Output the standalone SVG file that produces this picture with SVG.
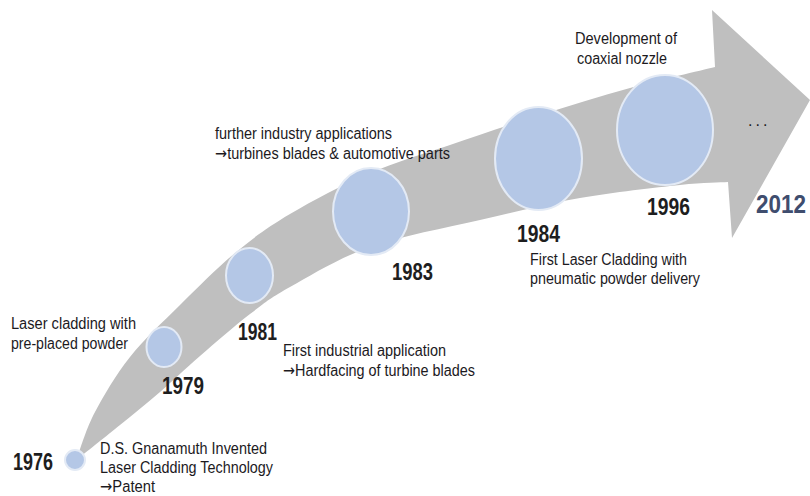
<svg xmlns="http://www.w3.org/2000/svg" width="810" height="496" viewBox="0 0 810 496">
  <style>
    .band { fill: #bfbfbf; }
    .dot { fill: #b4c7e6; stroke: #e3eaf5; stroke-width: 2; }
    .year { font-family: "Liberation Sans", Arial, sans-serif; font-size: 23px; font-weight: bold; fill: #1e1e1e; }
    .year-end { font-family: "Liberation Sans", Arial, sans-serif; font-size: 25px; font-weight: bold; fill: #3f4d6e; }
    .desc { font-family: "Liberation Sans", Arial, sans-serif; font-size: 16px; fill: #1c1a1e; }
    .arr { font-family: "DejaVu Sans", sans-serif; }
  </style>

  <!-- curved timeline arrow -->
  <g id="connectors">
    <path id="timeline-arrow" class="band" d="M78,455
      C80.8,447.8 86.3,428.3 95,412
      C103.7,395.7 115.8,374.8 130,357
      C144.2,339.2 162.5,322.3 180,305
      C197.5,287.7 216.7,268.2 235,253
      C253.3,237.8 267.5,227.3 290,214
      C312.5,200.7 343.3,184.5 370,173
      C396.7,161.5 421.7,154.7 450,145
      C478.3,135.3 510,124.5 540,115
      C570,105.5 600.8,96 630,88
      C659.2,80 700.8,70.5 715,67
      L712,10 L810,100 L732,238 L728,182
      C720,182.5 704.7,182.3 680,185
      C655.3,187.7 613.3,192.2 580,198
      C546.7,203.8 515,211.8 480,220
      C445,228.2 401.7,235.8 370,247
      C338.3,258.2 310,275.8 290,287
      C270,298.2 265,302.5 250,314
      C235,325.5 215,343 200,356
      C185,369 173.3,380.5 160,392
      C146.7,403.5 133.3,414.2 120,425
      C106.7,435.8 86.7,451.7 80,457 Z"/>
  </g>

  <g id="node-1976">
    <circle class="dot" cx="75" cy="460" r="10"/>
    <text class="year" x="13" y="470" textLength="40" lengthAdjust="spacingAndGlyphs">1976</text>
    <text class="desc" x="100" y="454" textLength="167" lengthAdjust="spacingAndGlyphs">D.S. Gnanamuth Invented</text>
    <text class="desc" x="100" y="473" textLength="173" lengthAdjust="spacingAndGlyphs">Laser Cladding Technology</text>
    <text class="desc" x="100" y="492" textLength="55" lengthAdjust="spacingAndGlyphs"><tspan class="arr">→</tspan>Patent</text>
  </g>

  <g id="node-1979">
    <ellipse class="dot" cx="164" cy="347" rx="17.5" ry="20"/>
    <text class="year" x="162" y="394" textLength="42" lengthAdjust="spacingAndGlyphs">1979</text>
    <text class="desc" x="11" y="329" textLength="125" lengthAdjust="spacingAndGlyphs">Laser cladding with</text>
    <text class="desc" x="11" y="349" textLength="117" lengthAdjust="spacingAndGlyphs">pre-placed powder</text>
  </g>

  <g id="node-1981">
    <ellipse class="dot" cx="249.5" cy="275.5" rx="23.5" ry="27.5"/>
    <text class="year" x="238" y="340" textLength="39" lengthAdjust="spacingAndGlyphs">1981</text>
    <text class="desc" x="283" y="356" textLength="163" lengthAdjust="spacingAndGlyphs">First industrial application</text>
    <text class="desc" x="283" y="376" textLength="192" lengthAdjust="spacingAndGlyphs"><tspan class="arr">→</tspan>Hardfacing of turbine blades</text>
  </g>

  <g id="node-1983">
    <ellipse class="dot" cx="371" cy="211.5" rx="38" ry="43.5"/>
    <text class="year" x="392" y="280" textLength="41" lengthAdjust="spacingAndGlyphs">1983</text>
    <text class="desc" x="215" y="139" textLength="177" lengthAdjust="spacingAndGlyphs">further industry applications</text>
    <text class="desc" x="215" y="159" textLength="235" lengthAdjust="spacingAndGlyphs"><tspan class="arr">→</tspan>turbines blades &amp; automotive parts</text>
  </g>

  <g id="node-1984">
    <ellipse class="dot" cx="538.5" cy="158.5" rx="43.5" ry="51.5"/>
    <text class="year" x="517" y="242" textLength="43" lengthAdjust="spacingAndGlyphs">1984</text>
    <text class="desc" x="530" y="265" textLength="157" lengthAdjust="spacingAndGlyphs">First Laser Cladding with</text>
    <text class="desc" x="530" y="284" textLength="170" lengthAdjust="spacingAndGlyphs">pneumatic powder delivery</text>
  </g>

  <g id="node-1996">
    <ellipse class="dot" cx="665" cy="130" rx="48" ry="55"/>
    <text class="year" x="647" y="215" textLength="43" lengthAdjust="spacingAndGlyphs">1996</text>
    <text class="desc" x="575" y="44" textLength="102" lengthAdjust="spacingAndGlyphs">Development of</text>
    <text class="desc" x="577" y="64" textLength="90" lengthAdjust="spacingAndGlyphs">coaxial nozzle</text>
  </g>

  <g id="node-2012">
    <text class="desc" x="748" y="126" font-size="14" letter-spacing="3">...</text>
    <text class="year-end" x="756" y="213" textLength="50" lengthAdjust="spacingAndGlyphs">2012</text>
  </g>
</svg>
